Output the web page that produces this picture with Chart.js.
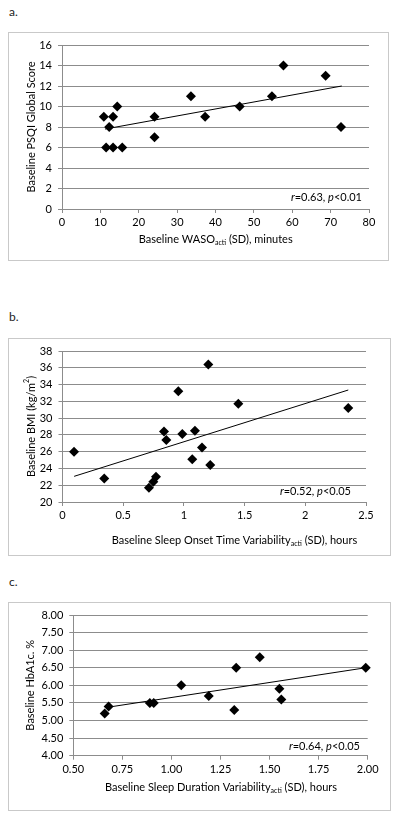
<!DOCTYPE html>
<html lang="en">
<head>
<meta charset="UTF-8">
<title>Baseline actigraphy correlations</title>
<script src="https://cdn.jsdelivr.net/npm/chart.js"></script>
<style>
  body { margin:0; background:#fff; width:400px; height:819px; position:relative; font-family: Lato, sans-serif; overflow:hidden; }
  .tag { position:absolute; left:9px; font-size:12px; color:#222; line-height:12px; }
  .frame { position:absolute; left:8px; border:1px solid #c9c9c9; box-sizing:border-box; }
  .frame canvas { position:absolute; left:-1px; top:-1px; }
</style>
</head>
<body>
  <div class="tag" style="top:6px;">a.</div>
  <div class="frame" style="top:32px; width:381px; height:229px;"><canvas id="chartA" width="381" height="229"></canvas></div>

  <div class="tag" style="top:311px;">b.</div>
  <div class="frame" style="top:338px; width:383px; height:218px;"><canvas id="chartB" width="383" height="218"></canvas></div>

  <div class="tag" style="top:576px;">c.</div>
  <div class="frame" style="top:602px; width:383px; height:209px;"><canvas id="chartC" width="383" height="209"></canvas></div>

<script>
  // a. WASO vs PSQI
  const wasoSD = [10.9, 13.3, 14.4, 12.3, 11.5, 13.3, 15.7, 24.1, 24.1, 33.6, 37.3, 46.3, 54.7, 57.7, 68.7, 72.7];
  const psqiScore = [9, 9, 10, 8, 6, 6, 6, 9, 7, 11, 9, 10, 11, 14, 13, 8];
  const wasoFitX = [11.2, 72.9];
  const wasoFitY = [7.8, 12.0];
  const wasoTicks = [0, 10, 20, 30, 40, 50, 60, 70, 80];
  const wasoTickLabels = ['0', '10', '20', '30', '40', '50', '60', '70', '80'];
  const psqiTicks = [0, 2, 4, 6, 8, 10, 12, 14, 16];
  const psqiTickLabels = ['0', '2', '4', '6', '8', '10', '12', '14', '16'];

  // b. sleep onset variability vs BMI
  const onsetSD = [0.095, 0.344, 0.712, 0.748, 0.77, 0.836, 0.855, 0.954, 0.987, 1.069, 1.091, 1.149, 1.201, 1.217, 1.448, 2.354];
  const bmi = [26.0, 22.8, 21.7, 22.4, 23.0, 28.4, 27.4, 33.2, 28.1, 25.1, 28.5, 26.5, 36.4, 24.4, 31.7, 31.2];
  const onsetFitX = [0.096, 2.354];
  const onsetFitY = [23.06, 33.35];
  const onsetTicks = [0, 0.5, 1, 1.5, 2, 2.5];
  const onsetTickLabels = ['0', '0.5', '1', '1.5', '2', '2.5'];
  const bmiTicks = [20, 22, 24, 26, 28, 30, 32, 34, 36, 38];
  const bmiTickLabels = ['20', '22', '24', '26', '28', '30', '32', '34', '36', '38'];

  // c. sleep duration variability vs HbA1c
  const durationSD = [0.66, 0.68, 0.89, 0.91, 1.05, 1.19, 1.32, 1.33, 1.45, 1.55, 1.56, 1.99];
  const hba1c = [5.2, 5.4, 5.5, 5.5, 6.0, 5.7, 5.3, 6.5, 6.8, 5.9, 5.6, 6.5];
  const durationFitX = [0.673, 1.99];
  const durationFitY = [5.375, 6.5];
  const durationTicks = [0.5, 0.75, 1, 1.25, 1.5, 1.75, 2];
  const durationTickLabels = ['0.50', '0.75', '1.00', '1.25', '1.50', '1.75', '2.00'];
  const hbaTicks = [4, 4.5, 5, 5.5, 6, 6.5, 7, 7.5, 8];
  const hbaTickLabels = ['4.00', '4.50', '5.00', '5.50', '6.00', '6.50', '7.00', '7.50', '8.00'];

  Chart.defaults.font.family = 'Lato, sans-serif';
  const ink = '#000';
  const rule = '#8c8c8c';

  // text with italic / subscript / superscript runs
  function drawRich(ctx, t) {
    const size = t.size || 11;
    const fontFor = k => (k === 'i' ? 'italic ' : '') + (k === 'sub' || k === 'sup' ? Math.round(size * 0.68) : size) + 'px Lato, sans-serif';
    ctx.save();
    ctx.translate(t.x, t.y);
    if (t.rotate) ctx.rotate(t.rotate);
    let total = 0;
    t.parts.forEach(p => { ctx.font = fontFor(p[1]); total += ctx.measureText(p[0]).width; });
    let x = t.align === 'right' ? -total : -total / 2;
    ctx.fillStyle = ink;
    ctx.textBaseline = 'middle';
    t.parts.forEach(p => {
      ctx.font = fontFor(p[1]);
      const dy = p[1] === 'sub' ? size * 0.32 : p[1] === 'sup' ? -size * 0.35 : 0;
      ctx.fillText(p[0], x, dy);
      x += ctx.measureText(p[0]).width;
    });
    ctx.restore();
  }

  function panel(id, o) {
    const pts = (xs, ys) => xs.map((x, i) => ({ x: x, y: ys[i] }));
    new Chart(document.getElementById(id), {
      type: 'scatter',
      data: {
        datasets: [
          { data: pts(o.xs, o.ys), pointStyle: 'rectRot', pointRadius: 5, pointHoverRadius: 5,
            backgroundColor: '#000', borderColor: '#000', borderWidth: 0, clip: false, order: 1 },
          { type: 'line', data: pts(o.fitX, o.fitY), showLine: true, borderColor: '#000', borderWidth: 1,
            pointRadius: 0, fill: false, clip: false, order: 2 }
        ]
      },
      options: {
        responsive: false,
        animation: false,
        events: [],
        layout: { padding: { top: o.area.top, right: o.w - o.area.right, left: 0, bottom: 0 } },
        plugins: { legend: { display: false }, tooltip: { enabled: false } },
        scales: {
          x: {
            type: 'linear', min: o.xTicks[0], max: o.xTicks[o.xTicks.length - 1],
            afterBuildTicks: s => { s.ticks = o.xTicks.map(v => ({ value: v })); },
            afterFit: s => { s.height = o.h - o.area.bottom; },
            ticks: { callback: (v, i) => o.xLabels[i], color: ink, font: { size: 11 }, padding: 3, maxRotation: 0, autoSkip: false },
            grid: { drawOnChartArea: false, drawTicks: true, tickLength: 4, color: rule },
            border: { color: rule }
          },
          y: {
            type: 'linear', min: o.yTicks[0], max: o.yTicks[o.yTicks.length - 1],
            afterBuildTicks: s => { s.ticks = o.yTicks.map(v => ({ value: v })); },
            afterFit: s => { s.width = o.area.left; },
            ticks: { callback: (v, i) => o.yLabels[i], color: ink, font: { size: 11 }, padding: 6, autoSkip: false },
            grid: { color: rule, tickLength: 4 },
            border: { color: rule }
          }
        }
      },
      plugins: [{
        id: 'texts',
        afterDraw(chart) {
          o.texts.forEach(t => drawRich(chart.ctx, t));
        }
      }]
    });
  }

  panel('chartA', {
    w: 381, h: 229, area: { left: 54, right: 361, top: 13, bottom: 177 },
    xs: wasoSD, ys: psqiScore, fitX: wasoFitX, fitY: wasoFitY,
    xTicks: wasoTicks, xLabels: wasoTickLabels, yTicks: psqiTicks, yLabels: psqiTickLabels,
    texts: [
      { x: 207.7, y: 207.5, parts: [['Baseline WASO', ''], ['acti', 'sub'], [' (SD), minutes', '']] },
      { x: 23.7, y: 95, rotate: -Math.PI / 2, parts: [['Baseline PSQI Global Score', '']] },
      { x: 354, y: 165, align: 'right', parts: [['r', 'i'], ['=0.63, ', ''], ['p', 'i'], ['<0.01', '']] }
    ]
  });

  panel('chartB', {
    w: 383, h: 218, area: { left: 54.5, right: 358, top: 13, bottom: 164 },
    xs: onsetSD, ys: bmi, fitX: onsetFitX, fitY: onsetFitY,
    xTicks: onsetTicks, xLabels: onsetTickLabels, yTicks: bmiTicks, yLabels: bmiTickLabels,
    texts: [
      { x: 226.5, y: 202, parts: [['Baseline Sleep Onset Time Variability', ''], ['acti', 'sub'], [' (SD), hours', '']] },
      { x: 23, y: 88.5, rotate: -Math.PI / 2, parts: [['Baseline BMI (kg/m', ''], ['2', 'sup'], [')', '']] },
      { x: 343, y: 153.7, align: 'right', parts: [['r', 'i'], ['=0.52, ', ''], ['p', 'i'], ['<0.05', '']] }
    ]
  });

  panel('chartC', {
    w: 383, h: 209, area: { left: 65.3, right: 359.7, top: 13, bottom: 153.7 },
    xs: durationSD, ys: hba1c, fitX: durationFitX, fitY: durationFitY,
    xTicks: durationTicks, xLabels: durationTickLabels, yTicks: hbaTicks, yLabels: hbaTickLabels,
    texts: [
      { x: 213, y: 185.3, parts: [['Baseline Sleep Duration Variability', ''], ['acti', 'sub'], [' (SD), hours', '']] },
      { x: 22.7, y: 83.3, rotate: -Math.PI / 2, parts: [['Baseline HbA1c. %', '']] },
      { x: 352, y: 144.7, align: 'right', parts: [['r', 'i'], ['=0.64, ', ''], ['p', 'i'], ['<0.05', '']] }
    ]
  });
</script>
</body>
</html>
